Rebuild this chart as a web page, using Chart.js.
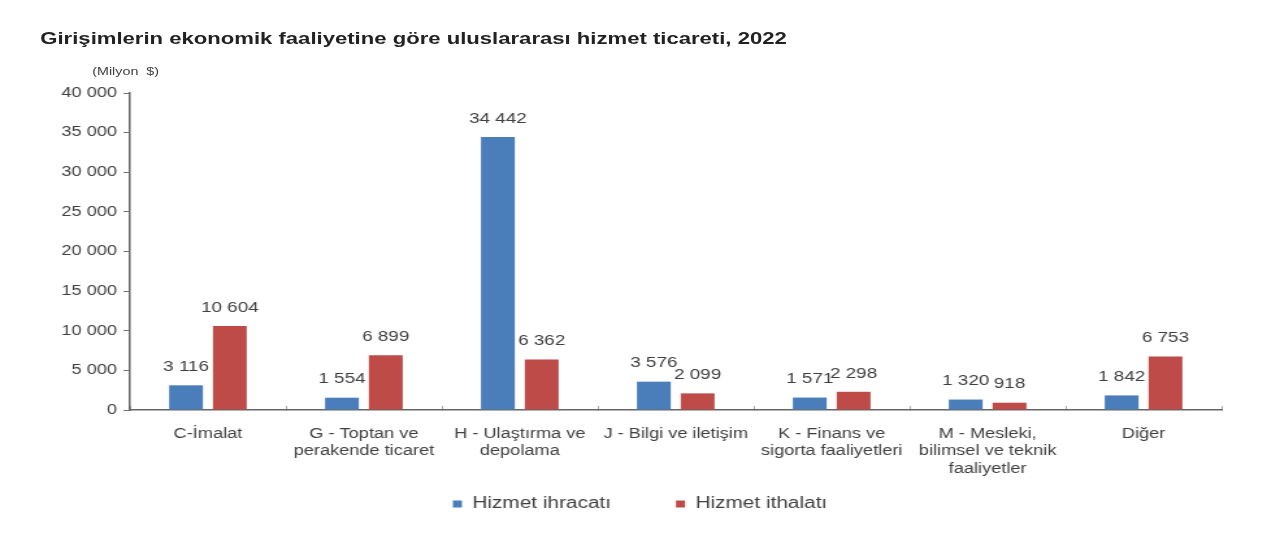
<!DOCTYPE html>
<html>
<head>
<meta charset="utf-8">
<script src="https://cdn.jsdelivr.net/npm/chart.js@4/dist/chart.umd.min.js"></script>
<style>
    html, body { margin: 0; padding: 0; background: #fff; overflow: hidden; }
    /* the source picture is stretched sideways, so draw narrow and stretch */
    #wrap {
        width: 985px; height: 536px; position: relative;
        transform: scale(1.2995, 1); transform-origin: 0 0;
        font-family: "Liberation Sans", Arial, sans-serif;
    }
    #title {
        position: absolute; left: 31px; top: 29px;
        font-size: 17px; font-weight: bold; color: #222; white-space: nowrap;
    }
    #unit {
        position: absolute; left: 71px; top: 65px;
        font-size: 11px; color: #404040; white-space: nowrap;
    }
    #chartBox { position: absolute; left: 0; top: 0; width: 985px; height: 536px; }
</style>
</head>
<body>
<div id="wrap">
    <div id="title">Girişimlerin ekonomik faaliyetine göre uluslararası hizmet ticareti, 2022</div>
    <div id="unit">(Milyon&nbsp; $)</div>
    <div id="chartBox"><canvas id="tradeChart"></canvas></div>
</div>
<script>
const categories = [
    'C-İmalat',
    ['G - Toptan ve', 'perakende ticaret'],
    ['H - Ulaştırma ve', 'depolama'],
    'J - Bilgi ve iletişim',
    ['K - Finans ve', 'sigorta faaliyetleri'],
    ['M - Mesleki,', 'bilimsel ve teknik', 'faaliyetler'],
    'Diğer'
];
const exports = [3116, 1554, 34442, 3576, 1571, 1320, 1842];
const imports = [10604, 6899, 6362, 2099, 2298, 918, 6753];
const seriesNames = ['Hizmet ihracatı', 'Hizmet ithalatı'];

const textColor = '#404040';
const fontFamily = '"Liberation Sans", Arial, sans-serif';

// spaces as thousands separator, like the source
function fmt(v) {
    return String(v).replace(/\B(?=(\d{3})+(?!\d))/g, ' ');
}

// draw values above each bar
const valueLabels = {
    id: 'valueLabels',
    afterDatasetsDraw(chart) {
        const ctx = chart.ctx;
        ctx.save();
        ctx.font = '14.5px ' + fontFamily;
        ctx.fillStyle = textColor;
        ctx.textAlign = 'center';
        ctx.textBaseline = 'bottom';
        chart.data.datasets.forEach((ds, i) => {
            chart.getDatasetMeta(i).data.forEach((bar, j) => {
                ctx.fillText(fmt(ds.data[j]), bar.x, bar.y - 11);
            });
        });
        ctx.restore();
    }
};

// x labels hang below into the legend gap, so don't clip them at the scale bottom
const looseLabels = {
    id: 'looseLabels',
    afterLayout(chart) {
        chart.scales.x.bottom = chart.height;
    }
};

const data = {
    labels: categories,
    datasets: [{
        label: seriesNames[0],
        data: exports,
        backgroundColor: '#4a7ebb',
        categoryPercentage: 0.562,
        barPercentage: 0.772,
    }, {
        label: seriesNames[1],
        data: imports,
        backgroundColor: '#be4b48',
        categoryPercentage: 0.562,
        barPercentage: 0.772,
    }]
};

const config = {
    type: 'bar',
    data: data,
    plugins: [valueLabels, looseLabels],
    options: {
        responsive: true,
        maintainAspectRatio: false,
        animation: false,
        layout: {
            padding: { left: 45, right: 45, top: 93, bottom: 14 }
        },
        plugins: {
            legend: {
                position: 'bottom',
                labels: {
                    color: textColor,
                    font: { family: fontFamily, size: 16 },
                    boxWidth: 7,
                    boxHeight: 7,
                    padding: 50
                }
            },
            tooltip: { enabled: false }
        },
        scales: {
            x: {
                afterFit(scale) { scale.height = 36; },
                grid: {
                    offset: true,
                    drawOnChartArea: false,
                    tickLength: -4,   // small marks point up into the plot
                    color: '#aaa'
                },
                border: { color: '#666', width: 1.5 },
                ticks: {
                    color: textColor,
                    font: { family: fontFamily, size: 14, lineHeight: 1.25 },
                    maxRotation: 0,
                    autoSkip: false,
                    padding: 19
                }
            },
            y: {
                min: 0,
                max: 40000,
                afterFit(scale) { scale.width = 55; },
                grid: {
                    drawOnChartArea: false,
                    tickLength: 5,
                    color: '#777'
                },
                border: { color: '#666', width: 1.5 },
                ticks: {
                    stepSize: 5000,
                    color: textColor,
                    font: { family: fontFamily, size: 14 },
                    padding: 5,
                    callback: v => fmt(v)
                }
            }
        }
    }
};

const myChart = new Chart(document.getElementById('tradeChart'), config);
</script>
</body>
</html>
